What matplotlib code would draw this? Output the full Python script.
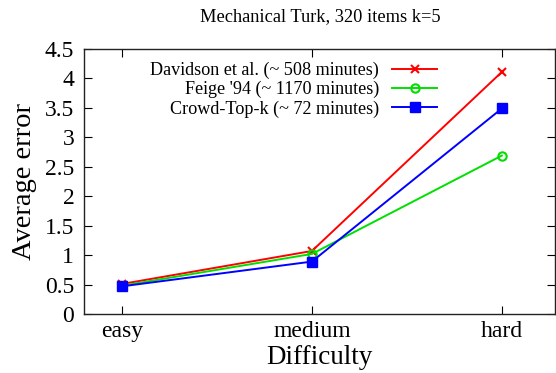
import numpy as np
import matplotlib.pyplot as plt

plt.rcParams['font.family'] = ['Liberation Serif', 'DejaVu Serif']

categories = ['easy', 'medium', 'hard']
davidson = [0.51, 1.07, 4.11]
feige = [0.48, 1.02, 2.69]
crowd = [0.47, 0.89, 3.49]
labels = ['Davidson et al. (~ 508 minutes)', "Feige '94 (~ 1170 minutes)", 'Crowd-Top-k (~ 72 minutes)']

fig = plt.figure(figsize=(5.56, 3.73), dpi=100)
ax = fig.add_axes([84/556, 1-314/373, (555-84)/556, (314-49)/373])

x = np.arange(len(categories))
ax.plot(x, davidson, color='#ff0000', lw=1.4, marker='x', ms=6, mew=1.5, label=labels[0])
ax.plot(x, feige, color='#00e000', lw=1.4, marker='o', ms=6, mfc='none', mew=1.5, label=labels[1])
ax.plot(x, crowd, color='#0000ff', lw=1.4, marker='s', ms=7, label=labels[2])

ax.set_xlim(-0.2, 2.28)
ax.set_ylim(0, 4.5)
ax.set_xticks(x)
ax.set_xticklabels(categories)
ax.set_yticks(np.arange(0, 4.51, 0.5))
ax.set_yticklabels(['0', '0.5', '1', '1.5', '2', '2.5', '3', '3.5', '4', '4.5'])
ax.tick_params(direction='in', length=6, width=0.8, top=True, right=True, labelsize=17, pad=7)
ax.tick_params(axis='x', pad=5)
for s in ax.spines.values():
    s.set_linewidth(1.0)
    s.set_color('#222222')

ax.set_xlabel('Difficulty', fontsize=19.5, labelpad=2)
ax.set_ylabel('Average error', fontsize=20.5, labelpad=6)
fig.text(320/556, 1-17/373, 'Mechanical Turk, 320 items k=5', ha='center', va='center', fontsize=13.2)

leg = ax.legend(loc='upper right', bbox_to_anchor=((437-84)/471, 1-13/265), frameon=False, fontsize=13.1,
                markerfirst=False, handlelength=2.45, handletextpad=0.75, labelspacing=0.1,
                borderpad=0, borderaxespad=0)
for t in leg.get_texts():
    t.set_ha('right')
leg._legend_box.align = 'right'

fig.savefig('out.png', dpi=100)
